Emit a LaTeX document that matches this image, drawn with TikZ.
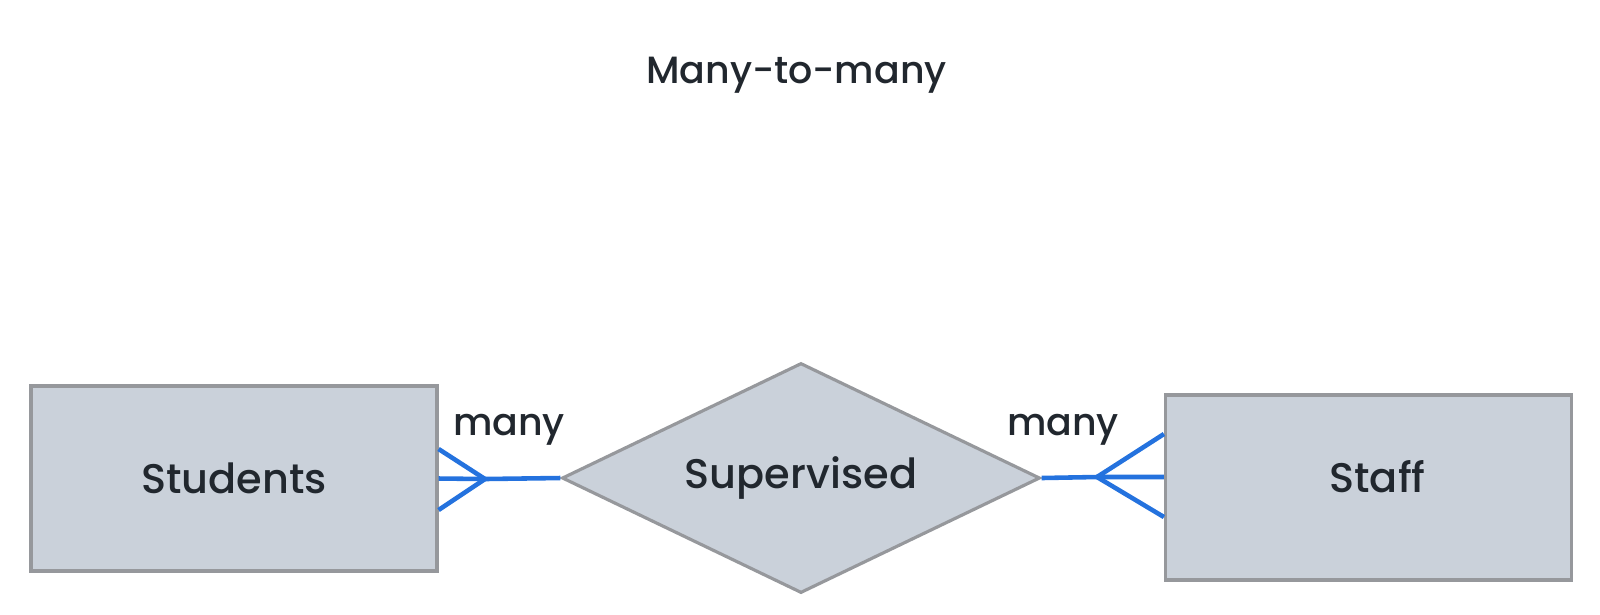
\documentclass[tikz,border=0pt]{standalone}
\usepackage{fontspec}
\setmainfont{Poppins Medium}
\usepackage{xcolor}
\usepackage{tikz}
\usetikzlibrary{shapes.geometric, calc, positioning}
\definecolor{ERFill}{RGB}{202, 209, 218}
\definecolor{ERBorder}{RGB}{150, 152, 156}
\definecolor{ERBlue}{RGB}{36, 114, 222}
\definecolor{ERText}{RGB}{33, 39, 46}

\tikzset{
  entity/.style={rectangle, fill=ERFill, draw=ERBorder, line width=0.9pt,
                 minimum width=4.06cm, minimum height=1.85cm, inner sep=0pt,
                 font=\fontsize{11.8}{13}\selectfont, text=ERText},
  relation/.style={diamond, aspect=2.078, fill=ERFill, draw=ERBorder, line width=0.9pt,
                   minimum width=4.78cm, minimum height=2.3cm, inner sep=0pt,
                   font=\fontsize{11.8}{13}\selectfont, text=ERText},
  crow/.style={draw=ERBlue, line width=1.3pt},
  cardlabel/.style={anchor=base, inner sep=0pt, text=ERText,
                    font=\fontsize{10.8}{13}\selectfont}
}

\begin{document}
\begin{tikzpicture}
  \useasboundingbox (0,0) rectangle (16,-6.14);
  % title
  \node[cardlabel] (title) at (7.965,-0.83) {Many-to-many};

  % entities and relationship
  \node[entity] (students) at (2.34,-4.785) {Students};
  \node[relation] (supervised) at (8.01,-4.78) {Supervised};
  \node[entity, text depth=0.22cm] (staff) at (13.685,-4.875) {\hspace*{0.18cm}Staff};

  % cardinality labels
  \node[cardlabel] (lmany) at (5.09,-4.35) {many};
  \node[cardlabel] (rmany) at (10.63,-4.35) {many};

  % crow's feet
  \coordinate (lapex) at (4.85,-4.79);
  \coordinate (rapex) at (10.97,-4.77);
  \draw[crow] (lapex) -- (supervised.west);
  \draw[crow] (lapex) -- ($(students.east)+(0,0.295)$);
  \draw[crow] (lapex) -- (students.east);
  \draw[crow] (lapex) -- ($(students.east)+(0,-0.315)$);
  \draw[crow] (supervised.east) -- (rapex);
  \draw[crow] (rapex) -- ($(staff.west)+(0,0.535)$);
  \draw[crow] (rapex) -- ($(staff.west)+(0,0.105)$);
  \draw[crow] (rapex) -- ($(staff.west)+(0,-0.295)$);
\end{tikzpicture}
\end{document}
